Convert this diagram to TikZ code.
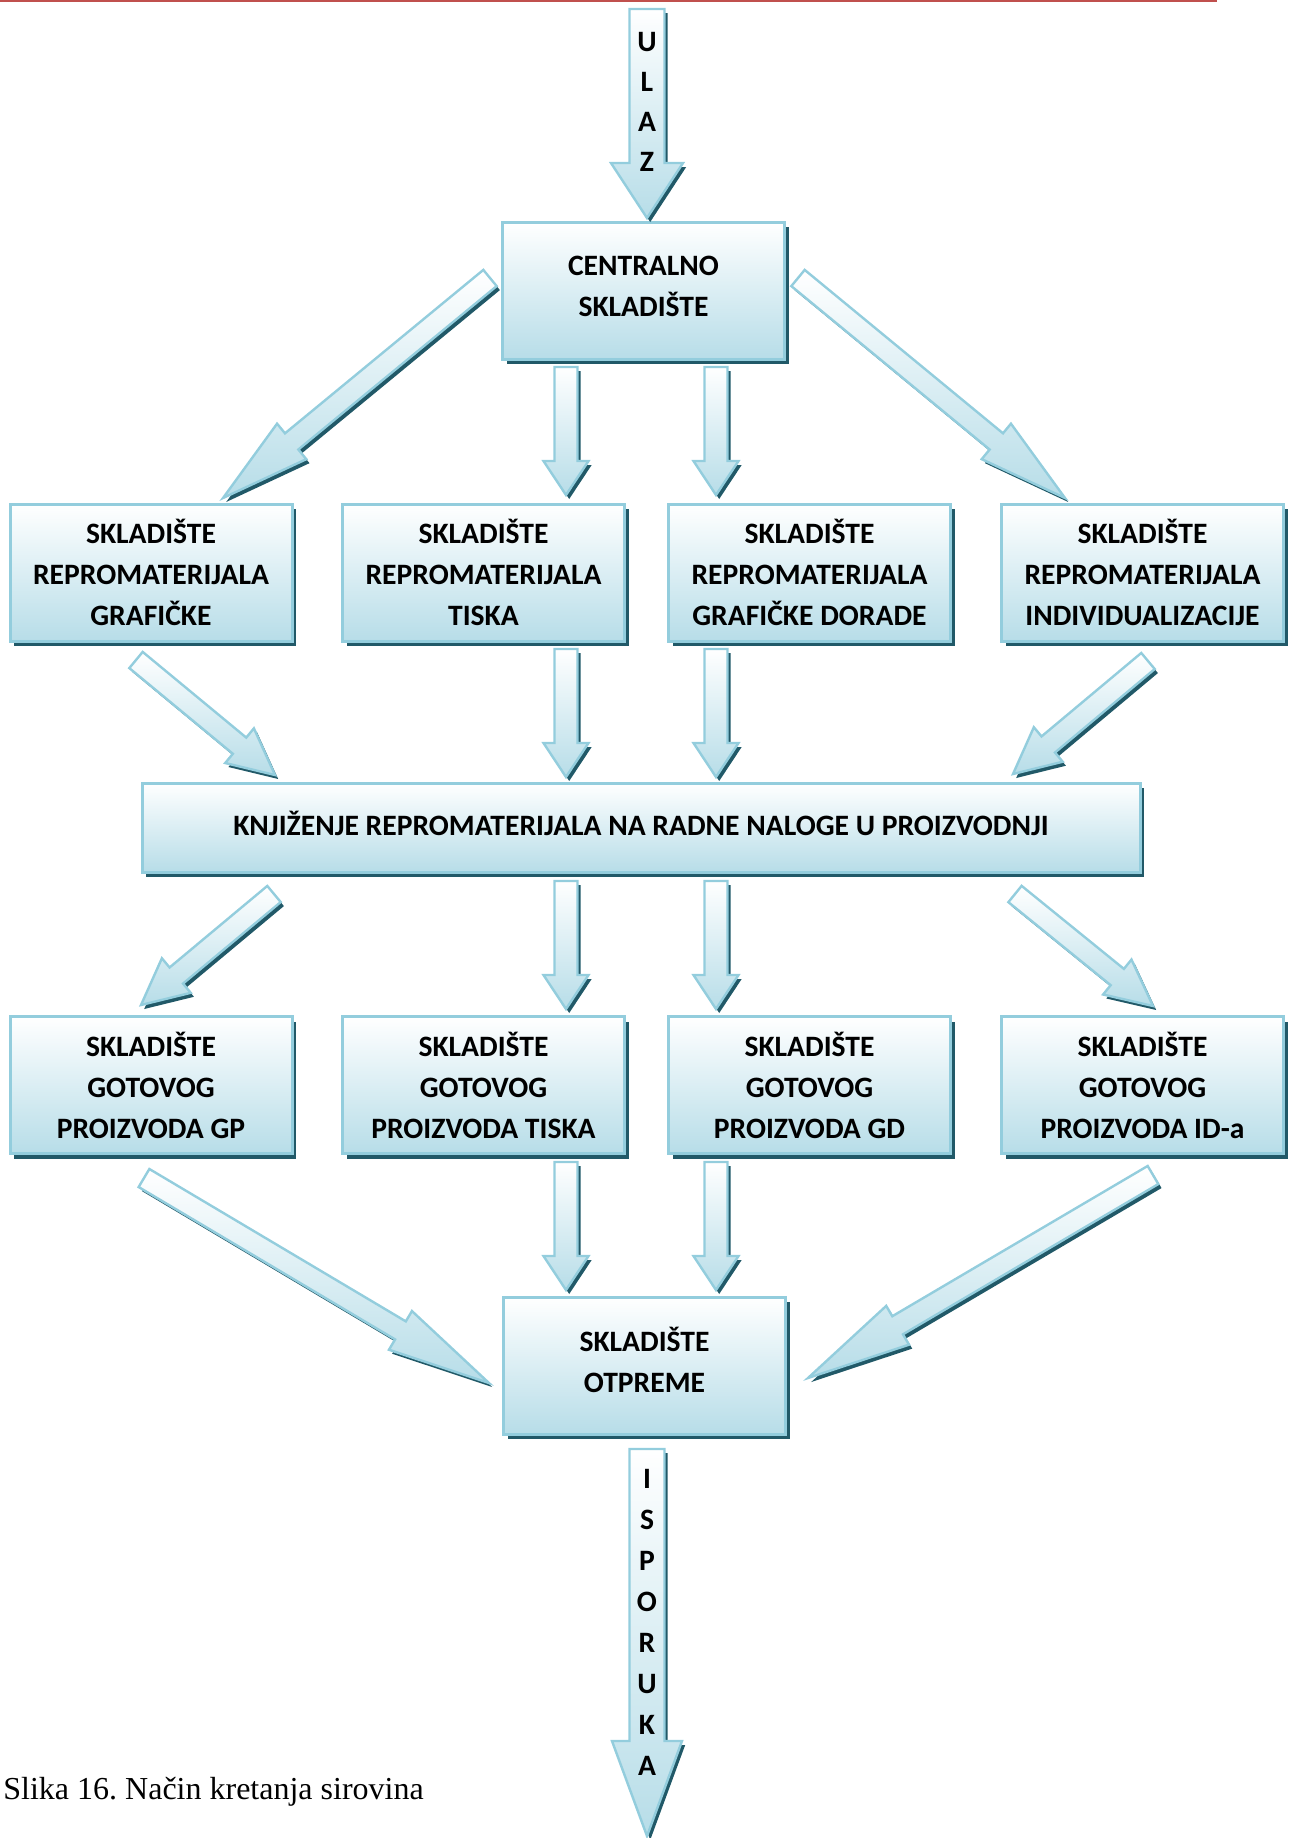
\documentclass[tikz,border=0pt]{standalone}
\usepackage{fontspec}
\setmainfont{Carlito}
\newfontfamily\captionfont{Liberation Serif}
\usetikzlibrary{calc,shadows}
\definecolor{boxline}{RGB}{147,205,221}
\definecolor{boxfill}{RGB}{183,221,232}
\definecolor{boxshadow}{RGB}{33,89,104}
\definecolor{topline}{RGB}{192,80,77}
\frenchspacing
\newcommand{\blockarrow}[5]{%
  \coordinate (hb) at ($(#2)!#5!(#1)$);
  \path[arrowbody] ($(#1)!#3!90:(#2)$) -- ($(hb)!#3!90:(#2)$) -- ($(hb)!#4!90:(#2)$) -- (#2)
    -- ($(hb)!#4!-90:(#2)$) -- ($(hb)!#3!-90:(#2)$) -- ($(#1)!#3!-90:(#2)$) -- cycle;}
\begin{document}
\begin{tikzpicture}[x=0.5pt,y=-0.5pt,
  box/.style={draw=boxline, line width=1.5pt, top color=white, bottom color=boxfill,
    drop shadow={shadow xshift=2pt, shadow yshift=-2.5pt, fill=boxshadow, opacity=1},
    inner sep=0pt, align=center, minimum width=141pt, minimum height=68.5pt,
    font=\bfseries\fontsize{14.8pt}{20.5pt}\selectfont},
  wide/.style={box, minimum width=499pt, minimum height=44.5pt},
  letter/.style={inner sep=0pt, font=\bfseries\fontsize{14.8pt}{17pt}\selectfont},
  arrowbody/.style={draw=boxline, line width=1.2pt, line join=miter, top color=white, bottom color=boxfill,
    drop shadow={shadow xshift=1.6pt, shadow yshift=-2pt, fill=boxshadow, opacity=1}}]
  \useasboundingbox (0,0) rectangle (1290,1838);
  \draw[topline, line width=1pt] (0,1) -- (1217,1);

  \node[box, text depth=4pt] (central) at (643.5,290.5) {CENTRALNO\\SKLADIŠTE};
  \node[box] (rgraf) at (151,572.5) {SKLADIŠTE\\REPROMATERIJALA\\GRAFIČKE};
  \node[box] (rtisak) at (483.5,572.5) {SKLADIŠTE\\REPROMATERIJALA\\TISKA};
  \node[box] (rdorada) at (809.5,572.5) {SKLADIŠTE\\REPROMATERIJALA\\GRAFIČKE DORADE};
  \node[box] (rindiv) at (1142.5,572.5) {SKLADIŠTE\\REPROMATERIJALA\\INDIVIDUALIZACIJE};
  \node[wide, text depth=4pt] (knjizenje) at (641,827.5) {KNJIŽENJE REPROMATERIJALA NA RADNE NALOGE U PROIZVODNJI};
  \node[box] (ggp) at (151,1085) {SKLADIŠTE\\GOTOVOG\\PROIZVODA GP};
  \node[box] (gtisak) at (483.5,1085) {SKLADIŠTE\\GOTOVOG\\PROIZVODA TISKA};
  \node[box] (ggd) at (809.5,1085) {SKLADIŠTE\\GOTOVOG\\PROIZVODA GD};
  \node[box] (gid) at (1142.5,1085) {SKLADIŠTE\\GOTOVOG\\PROIZVODA ID-a};
  \node[box, text depth=6pt] (otprema) at (644.5,1365.5) {SKLADIŠTE\\OTPREME};

  \coordinate (ulazt) at (647,9);
  \coordinate (ulazh) at (647,218);
  \blockarrow{ulazt}{ulazh}{8.75pt}{18pt}{27.5pt}
  \coordinate (ispt) at (647,1449);
  \coordinate (isph) at (647,1836);
  \blockarrow{ispt}{isph}{8.75pt}{17.5pt}{47.5pt}

  \coordinate (cgt) at (490,278);
  \coordinate (cgh) at (223,498);
  \blockarrow{cgt}{cgh}{5.25pt}{11.5pt}{44.5pt}
  \coordinate (cit) at (798,278);
  \coordinate (cih) at (1065,498);
  \blockarrow{cit}{cih}{5.25pt}{11.5pt}{44.5pt}

  \foreach \y in {367,649,881,1162}
    \foreach \x in {566,716} {
      \coordinate (vt) at (\x,\y);
      \coordinate (vh) at (\x,\y+128);
      \blockarrow{vt}{vh}{5.75pt}{11.25pt}{17pt}
    }

  \foreach \ax/\ay/\bx/\by/\hl in {136/660/275/775/23, 1148/661/1013/774/23,
      274/894/141/1005/23, 1015/894/1153/1006/23, 144/1178/489/1383/51.5, 1153/1175/808/1378/52} {
    \coordinate (dt) at (\ax,\ay);
    \coordinate (dh) at (\bx,\by);
    \blockarrow{dt}{dh}{5.25pt}{11.25pt}{\hl pt}
  }

  \foreach \c [count=\i] in {U,L,A,Z}
    \node[letter] (ulaz\i) at (647,2+40*\i) {\c};
  \foreach \c [count=\i] in {I,S,P,O,R,U,K,A}
    \node[letter] (isporuka\i) at (647,1438+41*\i) {\c};

  \node[anchor=base west, inner sep=0pt, font=\captionfont\fontsize{16pt}{19pt}\selectfont] (caption) at (3,1799) {Slika 16. Način kretanja sirovina};
\end{tikzpicture}
\end{document}
